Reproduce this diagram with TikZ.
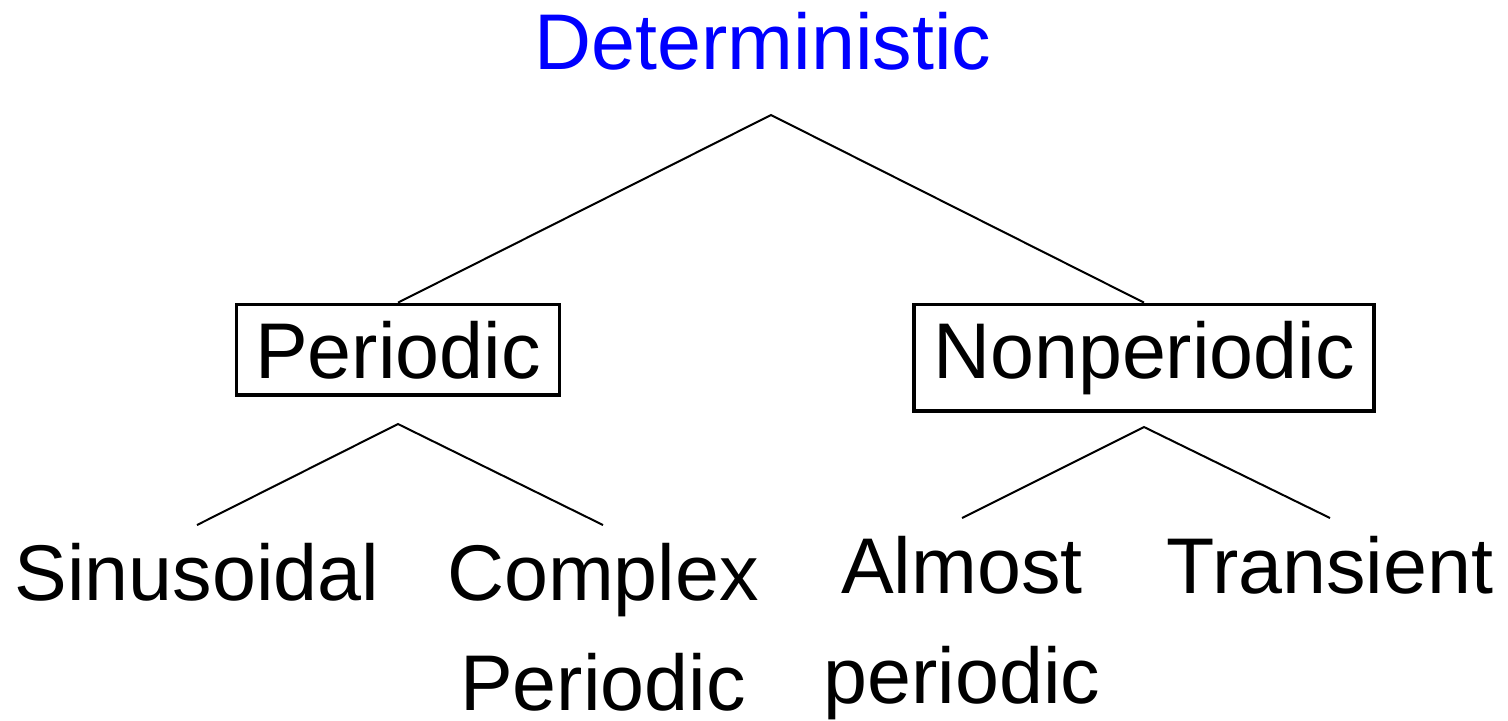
\documentclass[tikz,border=0pt]{standalone}
\usepackage{fontspec}
\setmainfont{Liberation Sans}
\usepackage{tikz}
\usetikzlibrary{positioning}
\definecolor{rootblue}{RGB}{0,0,255}
\tikzstyle{root} = [font=\fontsize{39.5}{55}\selectfont, text=rootblue, inner sep=0pt, anchor=base]
\tikzstyle{branch} = [rectangle, draw=black, line width=1.75pt, font=\fontsize{39.5}{55}\selectfont, inner xsep=9.5pt, inner ysep=8.2pt, anchor=base]
\tikzstyle{leaf} = [font=\fontsize{39.5}{55}\selectfont, align=center, inner xsep=0pt, inner ysep=8.7pt, anchor=north]
\tikzstyle{link} = [line width=1pt, black]

\begin{document}
\begin{tikzpicture}[x=0.5pt, y=-0.5pt]
        \useasboundingbox (0,0) rectangle (1508,720);

        \node (Deterministic) [root] at (763,69) {Deterministic};
        \node (Periodic) [branch] at (398,378) {Periodic};
        \node (Nonperiodic) [branch] at (1144,378) {Nonperiodic};
        \node (Sinusoidal) [leaf] at (197,525) {Sinusoidal};
        \node (ComplexPeriodic) [leaf] at (603,525) {Complex\\Periodic};
        \node (AlmostPeriodic) [leaf] at (962,518) {Almost\\periodic};
        \node (Transient) [leaf] at (1330,518) {Transient};

        \coordinate (DetFork) at (771,115);
        \coordinate (PerFork) at (398,424);
        \coordinate (NonFork) at (1144,427);

        \draw [link] (Periodic.north) -- (DetFork) -- (Nonperiodic.north);
        \draw [link] (Sinusoidal.north) -- (PerFork) -- (ComplexPeriodic.north);
        \draw [link] (AlmostPeriodic.north) -- (NonFork) -- (Transient.north);

\end{tikzpicture}
\end{document}
